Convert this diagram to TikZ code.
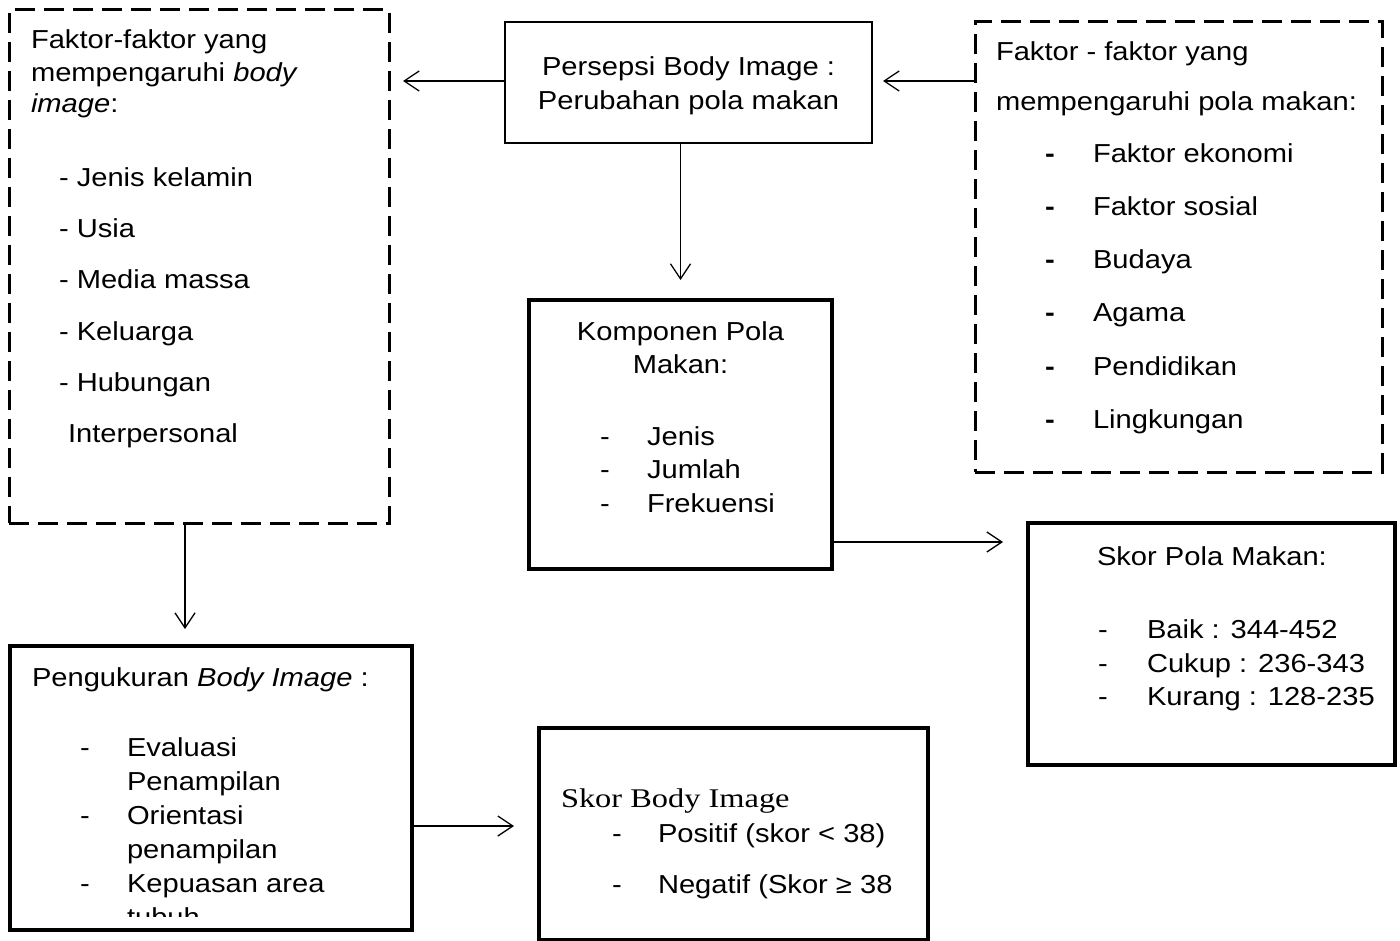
\documentclass[tikz,border=0pt]{standalone}
\usepackage{fontspec}
\setmainfont{Liberation Sans}[FakeStretch=1.12]
\newfontfamily\serifnode{Liberation Serif}[FakeStretch=1.2]
\usetikzlibrary{arrows.meta}
\begin{document}
\begin{tikzpicture}[x=1pt,y=-1pt,
  every node/.style={font=\fontsize{26}{30}\selectfont},
  txt/.style={anchor=base west, inner sep=0pt, outer sep=0pt},
  ctxt/.style={anchor=base, inner sep=0pt, outer sep=0pt},
  dbox/.style={draw, dash pattern=on 20pt off 9pt, line width=3pt, inner sep=0pt, outer sep=0pt},
  tbox/.style={draw, line width=2.5pt, inner sep=0pt, outer sep=0pt},
  kbox/.style={draw, line width=3.5pt, inner sep=0pt, outer sep=0pt},
  arr/.style={-{Straight Barb[length=15pt,width=20pt]}, line width=1.3pt}
]
\useasboundingbox[fill=white] (0,0) rectangle (1400,941);

% boxes
\node[dbox, minimum width=380pt, minimum height=513pt] (f1) at (199,266.5) {};
\node[tbox, minimum width=367pt, minimum height=121pt] (pers) at (688.5,82.5) {};
\node[dbox, minimum width=407pt, minimum height=450pt] (f2) at (1178.5,247) {};
\node[kbox, minimum width=303pt, minimum height=269pt] (komp) at (680.5,434.5) {};
\node[kbox, minimum width=367pt, minimum height=242pt] (skorpm) at (1211.5,644) {};
\node[kbox, minimum width=402pt, minimum height=284pt] (peng) at (211,788) {};
\node[kbox, minimum width=389pt, minimum height=212pt] (skorbi) at (733.5,834) {};

% texts: left dashed box
\node[txt] (f1t1) at (31,49) {Faktor-faktor yang};
\node[txt] (f1t2) at (31,82) {mempengaruhi \textit{body}};
\node[txt] (f1t3) at (31,113) {\textit{image}:};
\node[txt] (f1a) at (59,187) {- Jenis kelamin};
\node[txt] (f1b) at (59,238) {- Usia};
\node[txt] (f1c) at (59,289) {- Media massa};
\node[txt] (f1d) at (59,340) {- Keluarga};
\node[txt] (f1e) at (59,391) {- Hubungan};
\node[txt] (f1f) at (68,442) {Interpersonal};

% persepsi
\node[ctxt] (p1) at (688.5,76) {Persepsi Body Image :};
\node[ctxt] (p2) at (688.5,110) {Perubahan pola makan};

% right dashed box
\node[txt] (f2t1) at (996,61) {Faktor - faktor yang};
\node[txt] (f2t2) at (996,111) {mempengaruhi pola makan:};
\foreach \yy/\tt [count=\i] in {163/Faktor ekonomi,216/Faktor sosial,269/Budaya,322/Agama,375/Pendidikan,428/Lingkungan}{
  \node[txt] (f2d\i) at (1045,\yy) {\textbf{-}};
  \node[txt] (f2i\i) at (1093,\yy) {\tt};
}

% komponen
\node[ctxt] (k1) at (680.5,340) {Komponen Pola};
\node[ctxt] (k2) at (680.5,373) {Makan:};
\foreach \yy/\tt [count=\i] in {445/Jenis,478/Jumlah,512/Frekuensi}{
  \node[txt] (kd\i) at (600,\yy) {-};
  \node[txt] (ki\i) at (647,\yy) {\tt};
}

% skor pola makan
\node[txt] (s1) at (1097,565) {Skor Pola Makan:};
\foreach \yy/\tt [count=\i] in {638/Baik : 344-452,672/Cukup : 236-343,705/Kurang : 128-235}{
  \node[txt] (sd\i) at (1098,\yy) {-};
  \node[txt] (si\i) at (1147,\yy) {\tt};
}

% pengukuran
\node[txt] (g1) at (32,686) {Pengukuran \textit{Body Image} :};
\node[txt] (gd1) at (80,756) {-};
\node[txt] (gi1) at (127,756) {Evaluasi};
\node[txt] (gi2) at (127,790) {Penampilan};
\node[txt] (gd2) at (80,824) {-};
\node[txt] (gi3) at (127,824) {Orientasi};
\node[txt] (gi4) at (127,858) {penampilan};
\node[txt] (gd3) at (80,892) {-};
\node[txt] (gi5) at (127,892) {Kepuasan area};
\begin{scope}
  \clip (10,646) rectangle (412,916);
  \node[txt] (gi6) at (127,926) {tubuh};
\end{scope}

% skor body image
\node[txt, font=\serifnode\fontsize{27}{30}\selectfont] (b1) at (561,807) {Skor Body Image};
\node[txt] (bd1) at (612,842) {-};
\node[txt] (bi1) at (658,842) {Positif (skor < 38)};
\node[txt] (bd2) at (612,893) {-};
\node[txt] (bi2) at (658,893) {Negatif (Skor ≥ 38};

% connectors
\draw[arr, shorten >=14pt] ([yshift=1.5pt]pers.west) -- ([yshift=1.5pt]f1.east |- pers.west);
\draw[arr, shorten >=11pt] ([yshift=1.5pt]f2.west |- pers.east) -- ([yshift=1.5pt]pers.east);
\draw[arr, shorten >=20pt] (komp.north |- pers.south) -- (komp.north);
\draw[arr, shorten >=25pt] ([yshift=-107.5pt]komp.east) -- ([yshift=-107.5pt]komp.east -| skorpm.west);
\draw[arr, shorten >=17pt] ([xshift=-14pt]f1.south) -- ([xshift=-14pt]f1.south |- peng.north);
\draw[arr, shorten >=25pt] ([yshift=-38pt]peng.east) -- ([yshift=-38pt]peng.east -| skorbi.west);
\end{tikzpicture}
\end{document}
